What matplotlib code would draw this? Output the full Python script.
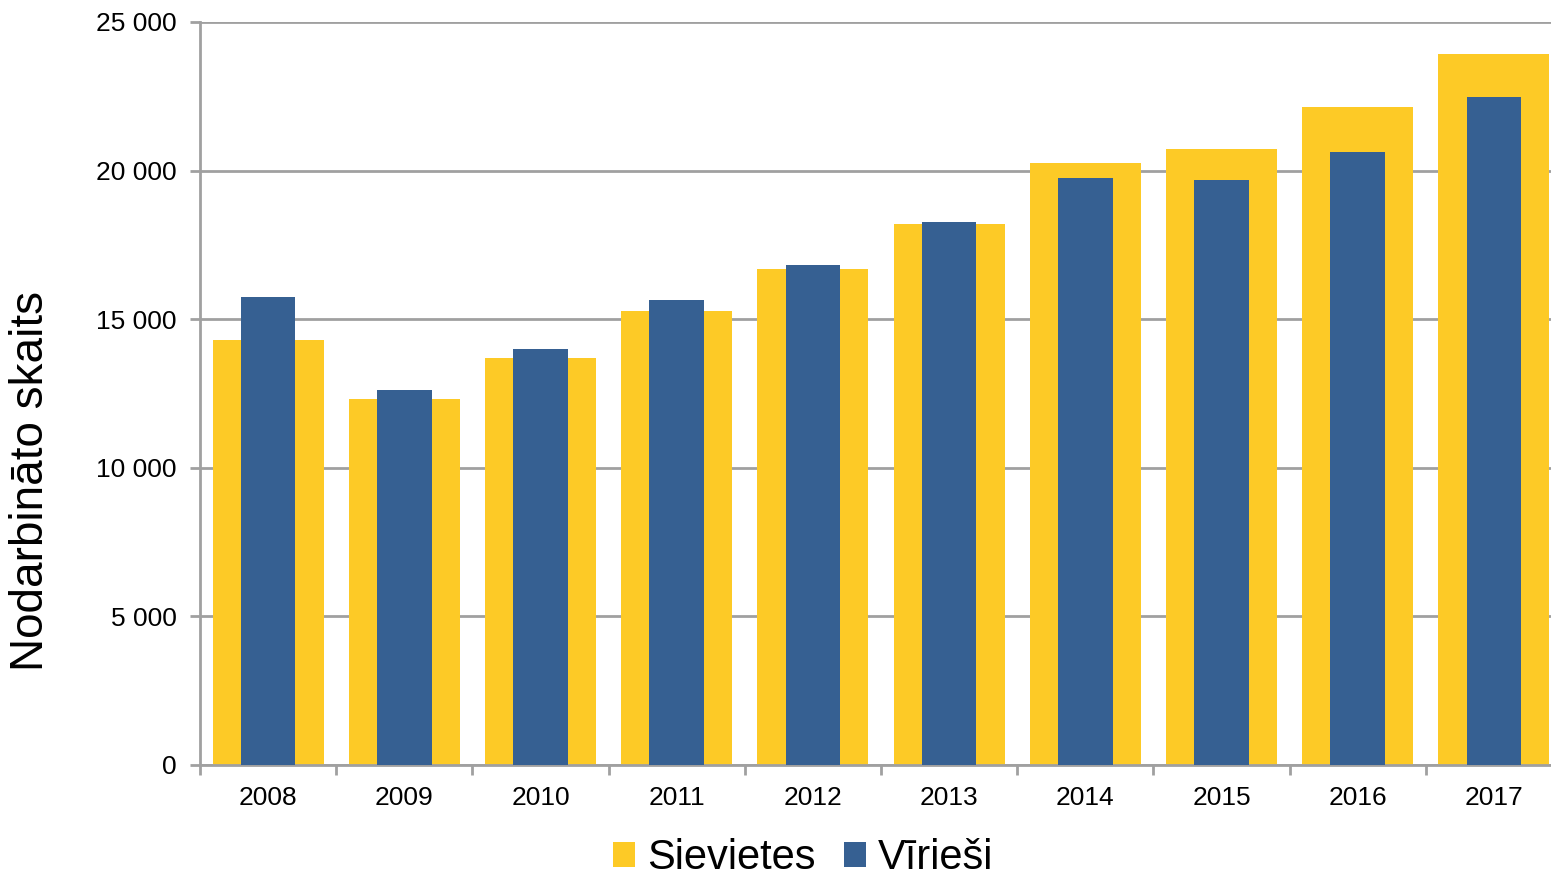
import matplotlib
matplotlib.use("Agg")
import matplotlib.pyplot as plt
import numpy as np
from matplotlib.ticker import FuncFormatter, FixedLocator
from matplotlib.patches import Patch

years = ["2008", "2009", "2010", "2011", "2012", "2013", "2014", "2015", "2016", "2017"]
sievietes = [14300, 12320, 13690, 15280, 16690, 18200, 20260, 20730, 22140, 23920]
viriesi = [15750, 12620, 14000, 15650, 16820, 18270, 19750, 19680, 20630, 22480]

yellow = "#FDCA26"
blue = "#366092"
grey = "#A0A0A0"

plt.rcParams['font.family'] = ['Liberation Sans', 'DejaVu Sans']

fig = plt.figure(figsize=(15.51, 8.76), dpi=100)
ax = fig.add_axes([200/1551, 111/876, 1362/1551, 743/876])

x = np.arange(len(years))
ax.bar(x, sievietes, width=0.815, color=yellow, zorder=2, label="Sievietes")
ax.bar(x, viriesi, width=0.40, color=blue, zorder=3, label="Vīrieši")

ax.set_xlim(-0.5, len(years) - 0.5)
ax.set_ylim(0, 25000)
ax.set_yticks(np.arange(0, 25001, 5000))
ax.yaxis.set_major_formatter(FuncFormatter(lambda v, p: f"{int(v):,}".replace(",", " ")))
ax.yaxis.grid(True, color=grey, linewidth=2, zorder=0)
ax.set_axisbelow(True)

ax.set_xticks(x)
ax.set_xticklabels(years)
ax.xaxis.set_minor_locator(FixedLocator(np.arange(-0.5, len(years), 1.0)))
ax.tick_params(axis='x', which='major', length=0, labelsize=19, pad=15)
ax.tick_params(axis='x', which='minor', length=7, width=2, color=grey, direction='out')
ax.tick_params(axis='y', length=7, width=2, color=grey, labelsize=19, pad=10)

for s in ['top', 'right']:
    ax.spines[s].set_visible(False)
for s in ['left', 'bottom']:
    ax.spines[s].set_color(grey)
    ax.spines[s].set_linewidth(2)

fig.text(31/1551, 1 - 481/876, "Nodarbināto skaits", rotation=90, fontsize=33,
         ha='center', va='center')

handles = [Patch(facecolor=yellow, label="Sievietes"), Patch(facecolor=blue, label="Vīrieši")]
fig.legend(handles=handles, loc='center', bbox_to_anchor=(803/1551, 1 - 858/876),
           ncol=2, frameon=False, fontsize=30, handlelength=0.53, handleheight=0.53,
           handletextpad=0.29, columnspacing=0.67)

fig.savefig("out.png", dpi=100)
